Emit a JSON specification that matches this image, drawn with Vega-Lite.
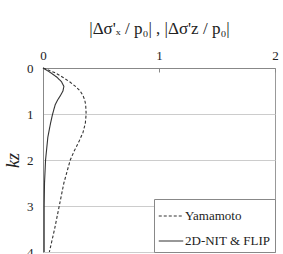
{
  "$schema": "https://vega.github.io/schema/vega-lite/v6.json",
  "width": 232,
  "height": 184,
  "autosize": {"type": "none"},
  "padding": {"left": 43, "top": 68, "right": 8, "bottom": 2},
  "background": "white",
  "config": {
    "font": "Liberation Serif",
    "view": {"stroke": "#999", "strokeWidth": 1}
  },
  "data": {
    "values": [
      {"s": "Yamamoto", "kz": 0, "v": 0},
      {"s": "Yamamoto", "kz": 0.1, "v": 0.1},
      {"s": "Yamamoto", "kz": 0.2, "v": 0.17},
      {"s": "Yamamoto", "kz": 0.3, "v": 0.23},
      {"s": "Yamamoto", "kz": 0.4, "v": 0.28},
      {"s": "Yamamoto", "kz": 0.5, "v": 0.32},
      {"s": "Yamamoto", "kz": 0.6, "v": 0.345},
      {"s": "Yamamoto", "kz": 0.7, "v": 0.36},
      {"s": "Yamamoto", "kz": 0.8, "v": 0.368},
      {"s": "Yamamoto", "kz": 1.0, "v": 0.372},
      {"s": "Yamamoto", "kz": 1.2, "v": 0.365},
      {"s": "Yamamoto", "kz": 1.4, "v": 0.345},
      {"s": "Yamamoto", "kz": 1.6, "v": 0.31},
      {"s": "Yamamoto", "kz": 1.8, "v": 0.27},
      {"s": "Yamamoto", "kz": 2.0, "v": 0.235},
      {"s": "Yamamoto", "kz": 2.5, "v": 0.18},
      {"s": "Yamamoto", "kz": 3.0, "v": 0.14},
      {"s": "Yamamoto", "kz": 3.5, "v": 0.1},
      {"s": "Yamamoto", "kz": 4.0, "v": 0.055},
      {"s": "2D-NIT & FLIP", "kz": 0, "v": 0},
      {"s": "2D-NIT & FLIP", "kz": 0.1, "v": 0.065},
      {"s": "2D-NIT & FLIP", "kz": 0.2, "v": 0.12},
      {"s": "2D-NIT & FLIP", "kz": 0.3, "v": 0.16},
      {"s": "2D-NIT & FLIP", "kz": 0.4, "v": 0.18},
      {"s": "2D-NIT & FLIP", "kz": 0.5, "v": 0.172},
      {"s": "2D-NIT & FLIP", "kz": 0.6, "v": 0.15},
      {"s": "2D-NIT & FLIP", "kz": 0.7, "v": 0.125},
      {"s": "2D-NIT & FLIP", "kz": 0.8, "v": 0.105},
      {"s": "2D-NIT & FLIP", "kz": 1.0, "v": 0.083},
      {"s": "2D-NIT & FLIP", "kz": 1.2, "v": 0.065},
      {"s": "2D-NIT & FLIP", "kz": 1.5, "v": 0.042},
      {"s": "2D-NIT & FLIP", "kz": 2.0, "v": 0.022},
      {"s": "2D-NIT & FLIP", "kz": 2.5, "v": 0.013},
      {"s": "2D-NIT & FLIP", "kz": 3.0, "v": 0.01},
      {"s": "2D-NIT & FLIP", "kz": 4.0, "v": 0.01}
    ]
  },
  "mark": {"type": "line", "color": "#333", "strokeWidth": 1.1},
  "encoding": {
    "x": {
      "field": "v", "type": "quantitative",
      "scale": {"domain": [0, 2], "nice": false},
      "axis": {
        "orient": "top", "values": [0, 1, 2], "labelExpr": "'' + datum.value", "grid": false, "labelOverlap": false, "labelFlush": false,
        "domainColor": "#888", "tickColor": "#888", "ticks": true, "tickSize": -4,
        "labelFont": "Liberation Serif", "labelFontSize": 13, "labelColor": "#222", "labelPadding": 10,
        "title": "|Δσ'ₓ / p₀| , |Δσ'z / p₀|",
        "titleFont": "Liberation Serif", "titleFontSize": 17, "titleFontWeight": "normal", "titleColor": "#222", "titlePadding": 12
      }
    },
    "y": {
      "field": "kz", "type": "quantitative",
      "scale": {"domain": [0, 4], "reverse": true, "nice": false},
      "axis": {
        "values": [0, 1, 2, 3, 4], "labelExpr": "'' + datum.value", "grid": true, "gridColor": "#ccc", "labelOverlap": false,
        "domainColor": "#888", "ticks": false,
        "labelFont": "Liberation Serif", "labelFontSize": 13, "labelColor": "#222", "labelPadding": 10,
        "title": "kz", "titleFont": "Liberation Serif", "titleFontStyle": "italic", "titleFontSize": 18,
        "titleFontWeight": "normal", "titleColor": "#222", "titlePadding": 4
      }
    },
    "order": {"field": "kz", "type": "quantitative"},
    "strokeDash": {
      "field": "s", "type": "nominal",
      "scale": {"domain": ["Yamamoto", "2D-NIT & FLIP"], "range": [[3, 2], [1, 0]]},
      "legend": {
        "title": null, "orient": "bottom-right", "offset": 0,
        "strokeColor": "#888", "padding": 4, "fillColor": "white",
        "symbolType": "stroke", "symbolSize": 600, "symbolStrokeColor": "#333", "symbolStrokeWidth": 1.1,
        "labelFont": "Liberation Serif", "labelFontSize": 13, "labelColor": "#222", "labelOffset": 1, "rowPadding": 5
      }
    }
  }
}
